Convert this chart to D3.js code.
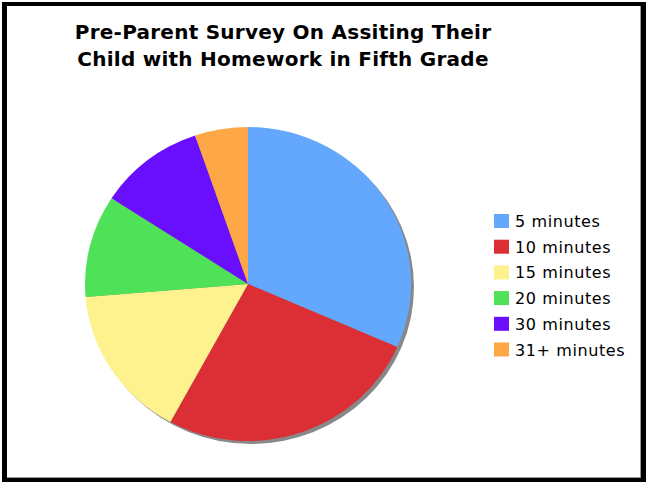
<!DOCTYPE html>
<html><head><meta charset="utf-8">
<script src="https://cdn.jsdelivr.net/npm/d3@7/dist/d3.min.js"></script>
<style>html,body{margin:0;padding:0;background:#fff;}svg{display:block;}</style>
</head><body>
<svg id="chart" width="646" height="482"></svg>
<script>
const titleLines = ["Pre-Parent Survey On Assiting Their", "Child with Homework in Fifth Grade"];
const categories = ["5 minutes", "10 minutes", "15 minutes", "20 minutes", "30 minutes", "31+ minutes"];
const values = [6, 5, 3, 2, 2, 1];
const colors = ["#63a8fd", "#dc2e35", "#fef28e", "#4fe258", "#6a0ffe", "#fea746"];

const svg = d3.select("#chart");
// frame
svg.append("rect").attr("x", 2).attr("y", 2).attr("width", 644).attr("height", 480).attr("fill", "#000");
svg.append("rect").attr("x", 7).attr("y", 6).attr("width", 634).attr("height", 472).attr("fill", "#999");
svg.append("rect").attr("x", 7).attr("y", 6).attr("width", 633).attr("height", 471).attr("fill", "#fff");

// title
svg.append("g").selectAll("text").data(titleLines).join("text")
  .attr("x", 283).attr("y", (d, i) => 39 + i * 27)
  .attr("text-anchor", "middle")
  .attr("font-family", "Verdana, 'DejaVu Sans', sans-serif")
  .attr("font-weight", "bold").attr("font-size", 20).attr("letter-spacing", 0.25).attr("fill", "#000")
  .text(d => d);

// pie
const cx = 248, cy = 284, rx = 163, ry = 157;
const pie = d3.pie().sort(null).value(d => d);
const arcs = pie(values);
const arc = d3.arc().innerRadius(0).outerRadius(ry);
const shadow = svg.append("g").attr("transform", `translate(${cx + 3},${cy + 3}) scale(${rx / ry},1)`);
shadow.append("path").attr("d", d3.arc().innerRadius(0).outerRadius(ry)({startAngle: 0, endAngle: 2 * Math.PI})).attr("fill", "#888");
const g = svg.append("g").attr("transform", `translate(${cx},${cy}) scale(${rx / ry},1)`);
g.selectAll("path").data(arcs).join("path")
  .attr("d", arc).attr("fill", (d, i) => colors[i]);

// legend
const legend = svg.append("g").attr("transform", "translate(494,214)");
const rows = legend.selectAll("g").data(categories).join("g")
  .attr("transform", (d, i) => `translate(0,${i * 25.7})`);
rows.append("rect").attr("width", 15).attr("height", 14).attr("fill", (d, i) => colors[i]);
rows.append("text").attr("x", 21).attr("y", 13)
  .attr("font-family", "Verdana, 'DejaVu Sans', sans-serif").attr("font-size", 16).attr("letter-spacing", 0.6).attr("fill", "#000")
  .text(d => d);
</script>
</body></html>
